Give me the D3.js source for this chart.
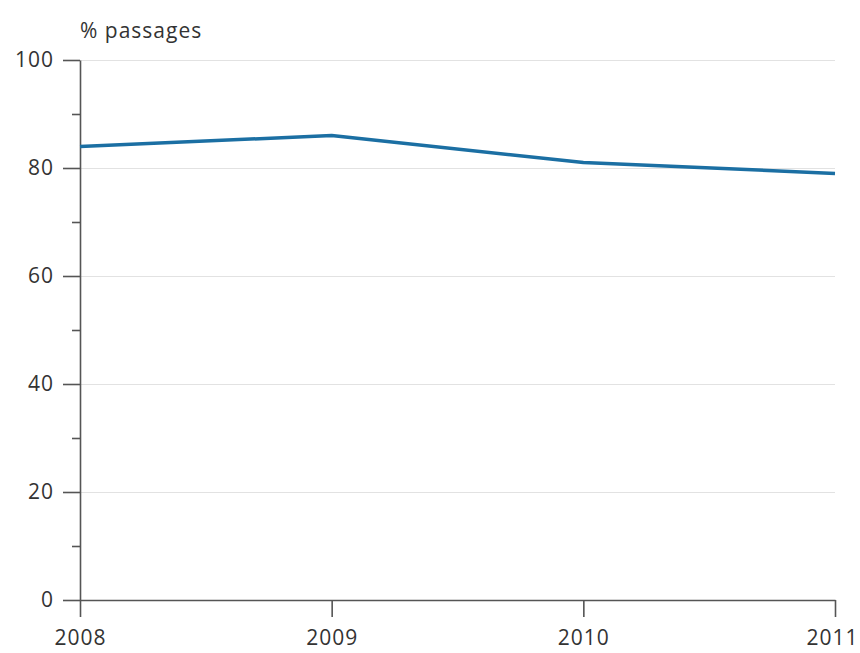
<!DOCTYPE html>
<meta charset="utf-8">
<style>
    body { margin: 0; background: #fff; }
    text { font-family: "Open Sans", sans-serif; fill: #333; letter-spacing: 1px; }
    .grid line { stroke: #e2e2e2; stroke-width: 1.2; }
    .grid path { display: none; }
    .axis path, .axis line { stroke: #555; stroke-width: 1.6; }
</style>
<svg width="860" height="653"></svg>
<script src="https://d3js.org/d3.v7.min.js"></script>
<script>
    var years = [2008, 2009, 2010, 2011];
    var passages = [84, 86, 81, 79];
    var yTicks = [0, 20, 40, 60, 80, 100];
    var yMinor = [10, 30, 50, 70, 90];

    var svg = d3.select('svg'),
        margin = { top: 60, right: 25, bottom: 53, left: 80 },
        width = +svg.attr('width') - margin.left - margin.right,
        height = +svg.attr('height') - margin.top - margin.bottom;

    var x = d3.scalePoint().domain(years).range([0, width]),
        y = d3.scaleLinear().domain([0, 100]).range([height, 0]);

    var g = svg.append('g')
        .attr('transform', 'translate(' + margin.left + ',' + margin.top + ')');

    // light gridlines
    g.append('g')
        .attr('class', 'grid')
        .call(d3.axisLeft(y).tickValues(yTicks.slice(1)).tickSize(-width).tickFormat(''));

    // minor ticks on the y axis
    g.append('g')
        .attr('class', 'axis')
        .call(d3.axisLeft(y).tickValues(yMinor).tickSize(8).tickFormat(''))
        .select('.domain').remove();

    // y axis
    var yAxis = g.append('g')
        .attr('class', 'axis')
        .call(d3.axisLeft(y).tickValues(yTicks).tickSize(17).tickSizeOuter(0).tickPadding(9));
    yAxis.selectAll('text').style('font-size', '21px');

    // x axis
    var xAxis = g.append('g')
        .attr('class', 'axis')
        .attr('transform', 'translate(0,' + height + ')')
        .call(d3.axisBottom(x).tickSize(17).tickSizeOuter(0).tickPadding(13));
    xAxis.selectAll('text').style('font-size', '21px');
    // last label would run off the right edge; pull it in just enough
    xAxis.selectAll('.tick:last-of-type text')
        .attr('text-anchor', 'end')
        .attr('x', margin.right - 2);

    g.append('text')
        .attr('x', 0)
        .attr('y', -22)
        .style('font-size', '21px')
        .text('% passages');

    var line = d3.line()
        .x((d, i) => x(years[i]))
        .y(d => y(d));

    g.append('path')
        .datum(passages)
        .attr('fill', 'none')
        .attr('stroke', '#1b6fa3')
        .attr('stroke-width', 3.5)
        .attr('stroke-linejoin', 'round')
        .attr('d', line);
</script>
